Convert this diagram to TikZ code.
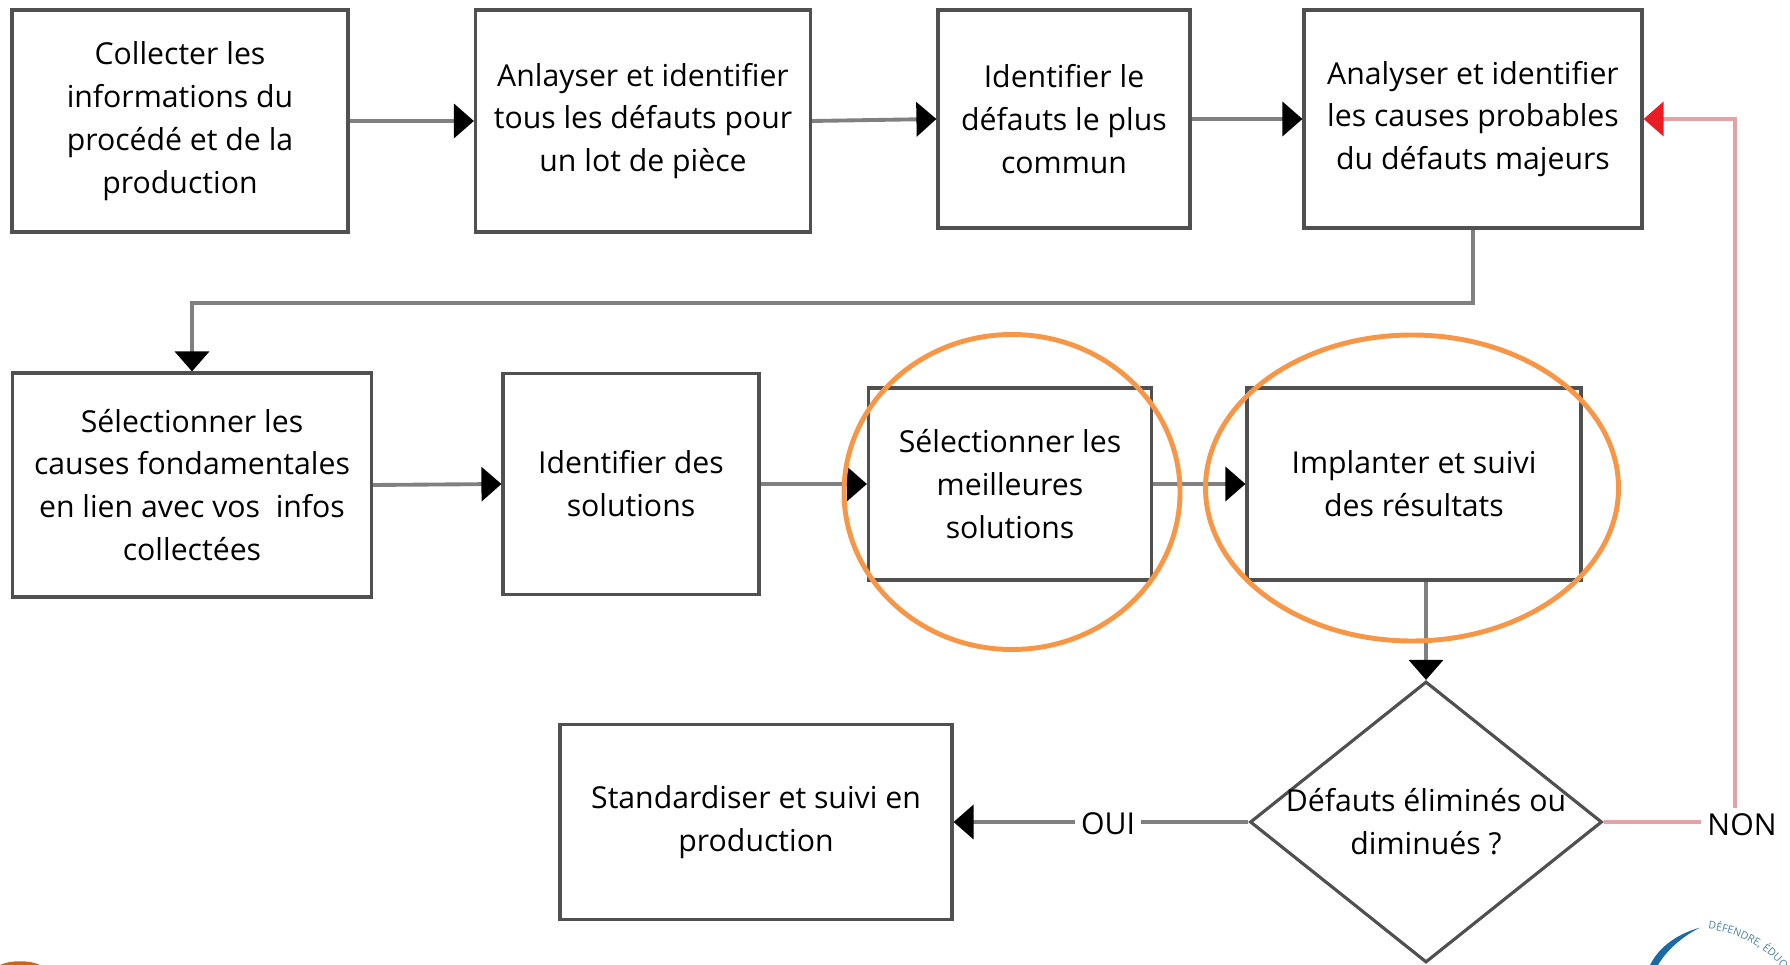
\documentclass[tikz,border=0pt]{standalone}
\usepackage{fontspec}
\setmainfont{Open Sans}
\usepackage{xcolor}
\usetikzlibrary{shapes.geometric,arrows.meta,decorations.text}
\definecolor{boxcolor}{HTML}{505050}
\definecolor{linkcolor}{HTML}{808080}
\definecolor{halocolor}{HTML}{F79646}
\definecolor{noncolor}{HTML}{E3A3A6}
\definecolor{nonhead}{HTML}{EC1C24}
\definecolor{logoblue}{HTML}{1B6AA5}
\definecolor{logotext}{HTML}{4A7FA5}
\definecolor{logoorange}{HTML}{C8641E}
\tikzset{
  stepbox/.style={draw=boxcolor, line width=0.9pt, rectangle, align=center, font=\fontsize{8.6}{12.2}\selectfont},
  link/.style={draw=linkcolor, line width=1.1pt},
  linkto/.style={link, -{Triangle[length=2mm,width=3.4mm,color=black]}},
  nonlink/.style={draw=noncolor, line width=1.1pt},
  halo/.style={draw=halocolor, line width=1.4pt, ellipse},
  tag/.style={font=\fontsize{8.6}{12.2}\selectfont, inner sep=1.5pt}
}

\begin{document}
\begin{tikzpicture}%
\useasboundingbox (0,0) rectangle (17.9,-9.65);%
% first row
\node[stepbox, minimum width=3.36cm, minimum height=2.22cm] (collect) at (1.80,-1.21) {Collecter les\\informations du\\procédé et de la\\production};%
\node[stepbox, minimum width=3.35cm, minimum height=2.22cm] (lot) at (6.43,-1.21) {Anlayser et identifier\\tous les défauts pour\\un lot de pièce};%
\node[stepbox, minimum width=2.52cm, minimum height=2.18cm] (commun) at (10.64,-1.19) {Identifier le\\défauts le plus\\commun};%
\node[stepbox, minimum width=3.38cm, minimum height=2.18cm] (causes) at (14.73,-1.19) {Analyser et identifier\\les causes probables\\du défauts majeurs};%
% second row
\node[stepbox, minimum width=3.59cm, minimum height=2.24cm] (racines) at (1.92,-4.85) {Sélectionner les\\causes fondamentales\\en lien avec vos\ \ infos\\collectées};%
\node[stepbox, minimum width=2.56cm, minimum height=2.21cm] (idees) at (6.31,-4.84) {Identifier des\\solutions};%
\node[stepbox, minimum width=2.83cm, minimum height=1.92cm] (choix) at (10.10,-4.84) {Sélectionner les\\meilleures\\solutions};%
\node[stepbox, minimum width=3.34cm, minimum height=1.92cm] (suivi) at (14.14,-4.84) {Implanter et suivi\\des résultats};%
% third row
\node[stepbox, minimum width=3.92cm, minimum height=1.95cm] (standard) at (7.56,-8.22) {Standardiser et suivi en\\production};%
\node[draw=boxcolor, line width=0.9pt, diamond, minimum width=3.52cm, minimum height=2.81cm, inner sep=0pt] (test) at (14.26,-8.22) {};%
\node[tag, align=center] (testtext) at (test.center) {Défauts éliminés ou\\diminués ?};%
\node[tag] (oui) at (11.08,-8.24) {OUI};%
\node[tag] (non) at (17.42,-8.25) {NON};%
% links
\draw[linkto] (collect.east) -- (lot.west);%
\draw[linkto] (lot.east) -- (commun.west);%
\draw[linkto] (commun.east) -- (causes.west);%
\draw[linkto] (causes.south) -- ++(0,-0.73) -| (racines.north);%
\draw[linkto] (racines.east) -- (idees.west);%
\draw[linkto] (idees.east) -- (choix.west);%
\draw[linkto] (choix.east) -- (suivi.west);%
\draw[linkto] (test.north |- suivi.south) -- (test.north);%
\draw[link] (test.west) -- (test.west -| oui.east);%
\draw[linkto] (standard.east -| oui.west) -- (standard.east);%
\draw[nonlink] (test.east) -- (test.east -| non.west);%
\draw[nonlink, -{Triangle[length=2mm,width=3.4mm,color=nonhead]}] ([xshift=-0.7mm]non.north) |- (causes.east);%
% circled steps
\node[halo, minimum width=3.36cm, minimum height=3.15cm] (halochoix) at (10.12,-4.92) {};%
\node[halo, minimum width=4.13cm, minimum height=3.06cm] (halosuivi) at (14.12,-4.88) {};%
% logos cut by the page edge
\fill[logoorange] (0,-9.65) .. controls (0.1,-9.6) and (0.3,-9.6) .. (0.4,-9.65) -- cycle;%
\fill[logoblue] (16.50,-9.65) .. controls (16.6,-9.45) and (16.8,-9.33) .. (17.0,-9.277) .. controls (16.85,-9.35) and (16.68,-9.48) .. (16.58,-9.65) -- cycle;%
\path[decorate, decoration={text along path, text={|\fontsize{3}{4}\selectfont\color{logotext}|DÉFENDRE, ÉDUQUE}, text align={left}}] (17.08,-9.29) arc[start angle=84, end angle=30, radius=1.13];%
\end{tikzpicture}
\end{document}
